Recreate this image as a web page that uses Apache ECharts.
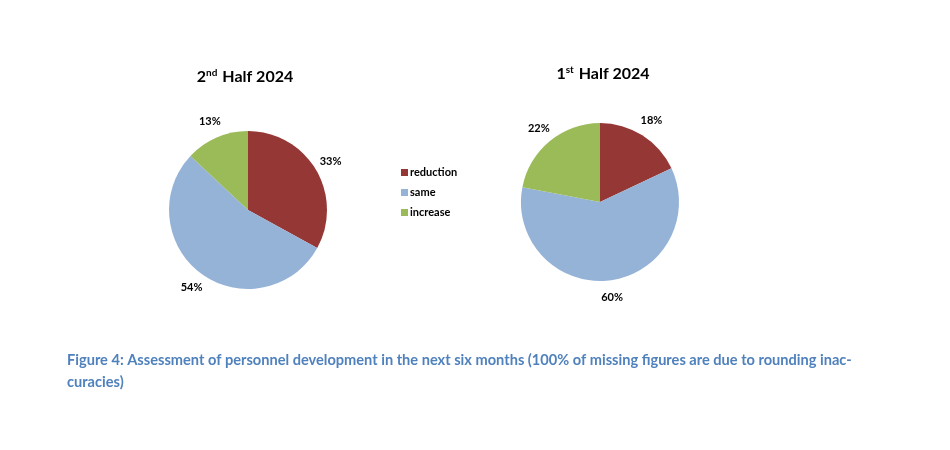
<!DOCTYPE html>
<html lang="en">
<head>
    <meta charset="UTF-8">
    <title>Personnel development</title>
    <script src="https://cdn.jsdelivr.net/npm/echarts@6/dist/echarts.min.js"></script>
    <style>
        body { margin: 0; padding: 0; background: #fff; }
        #chart { width: 950px; height: 450px; }
    </style>
</head>
<body>
<div id="chart"></div>
<script>
    // categories and shares (%)
    var categories = ['reduction', 'same', 'increase'];
    var colors = ['#953735', '#95b3d7', '#9bbb59'];
    var half2Values = [33, 54, 13];   // 2nd Half 2024
    var half1Values = [18, 60, 22];   // 1st Half 2024

    var font = 'Lato, "Open Sans", sans-serif';

    function toData(values) {
        return values.map(function (v, i) {
            return { name: categories[i], value: v, itemStyle: { color: colors[i] } };
        });
    }

    function pieSeries(values, center) {
        return {
            type: 'pie',
            center: center,
            radius: 79,
            startAngle: 90,
            clockwise: true,
            silent: true,
            animation: false,
            label: {
                position: 'outside',
                formatter: '{c}%',
                fontFamily: font,
                fontWeight: 'bold',
                fontSize: 11,
                color: '#000',
                distanceToLabelLine: 0
            },
            labelLine: { show: false, length: 17, length2: 0 },
            // centre each label on the end of its (hidden) label line
            labelLayout: function () {
                return { align: 'center', verticalAlign: 'middle' };
            },
            data: toData(values)
        };
    }

    var chart = echarts.init(document.getElementById('chart'));
    var titleRich = {
        b: { fontFamily: font, fontWeight: 'bold', fontSize: 16, color: '#000' },
        sup: { fontFamily: font, fontWeight: 'bold', fontSize: 10, color: '#000', verticalAlign: 'top', padding: [0, 1, 8, 0] }
    };

    chart.setOption({
        backgroundColor: '#fff',
        title: [
            { text: '{b|2}{sup|nd}{b| Half 2024}', left: 240, top: 63, textAlign: 'center', textStyle: { rich: titleRich } },
            { text: '{b|1}{sup|st}{b| Half 2024}', left: 598, top: 60, textAlign: 'center', textStyle: { rich: titleRich } }
        ],
        legend: {
            orient: 'vertical',
            left: 396,
            top: 162,
            itemWidth: 7,
            itemHeight: 7,
            itemGap: 9,
            icon: 'rect',
            selectedMode: false,
            textStyle: { fontFamily: font, fontWeight: 'bold', fontSize: 11, color: '#000', padding: [0, 0, 0, -3] },
            data: categories
        },
        series: [
            pieSeries(half2Values, [248, 210]),
            pieSeries(half1Values, [600, 202])
        ],
        graphic: [{
            type: 'text',
            left: 67,
            top: 349,
            style: {
                text: 'Figure 4: Assessment of personnel development in the next six months (100% of missing figures are due to rounding inac-\ncuracies)',
                font: 'bold 14.6px ' + font,
                fill: '#4f81bd',
                lineHeight: 22
            }
        }]
    });
</script>
</body>
</html>
